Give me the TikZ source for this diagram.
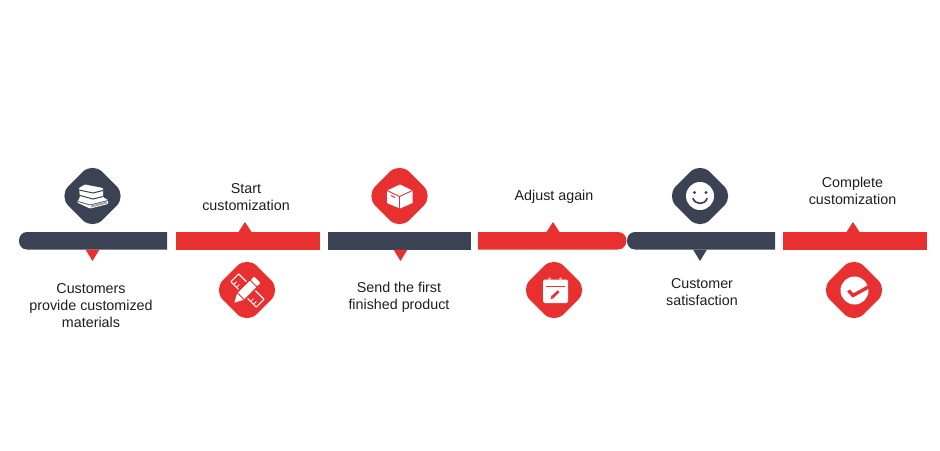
\documentclass[tikz,border=0pt]{standalone}
\usepackage{fontspec}
\setmainfont{Liberation Sans}
\definecolor{navy}{HTML}{3A4254}
\definecolor{redc}{HTML}{E93030}
\definecolor{txt}{HTML}{1E1E1E}
\tikzset{
  badge/.style={rectangle,rotate=45,minimum size=48pt,rounded corners=14pt,inner sep=0pt,fill=#1},
  lbl/.style={align=center,text=txt,font=\fontsize{14.3}{17}\selectfont,inner sep=0pt},
  icoline/.style={draw=white,line width=1.1pt,line join=round}
}
\begin{document}
\begin{tikzpicture}[x=1pt,y=-1pt]
\useasboundingbox (0,0) rectangle (940,450);
% bars
\fill[navy] (167,232) -- (27,232) .. controls (22,232) and (19,236) .. (19,240.75) .. controls (19,245.5) and (22,249.5) .. (27,249.5) -- (167,249.5) -- cycle;
\fill[redc] (175.5,232) rectangle (320,249.5);
\fill[navy] (327.5,232) rectangle (471,249.5);
\fill[redc] (478,232) -- (618,232) .. controls (623,232) and (626.5,236) .. (626.5,240.75) .. controls (626.5,245.5) and (623,249.5) .. (618,249.5) -- (478,249.5) -- cycle;
\fill[navy] (775,232) -- (635,232) .. controls (630,232) and (627,236) .. (627,240.75) .. controls (627,245.5) and (630,249.5) .. (635,249.5) -- (775,249.5) -- cycle;
\fill[redc] (783,232) rectangle (927,249.5);
% pointers
\fill[redc] (85.5,249.5) -- (99.5,249.5) -- (92.5,261) -- cycle;
\fill[redc] (238.5,232) -- (251.5,232) -- (245,222) -- cycle;
\fill[redc] (393.5,249.5) -- (407.5,249.5) -- (400.5,261) -- cycle;
\fill[redc] (546.5,232) -- (559.5,232) -- (553,222) -- cycle;
\fill[navy] (693,249.5) -- (707,249.5) -- (700,261) -- cycle;
\fill[redc] (846.5,232) -- (859.5,232) -- (853,222) -- cycle;
% badges
\node[badge=navy] (b1) at (92.5,196) {};
\node[badge=redc] (b2) at (247,290) {};
\node[badge=redc] (b3) at (399.5,196) {};
\node[badge=redc] (b4) at (554,290) {};
\node[badge=navy] (b5) at (700,196) {};
\node[badge=redc] (b6) at (854,290) {};
% labels
\node[lbl] (t1) at (91,305.7) {Customers\\provide customized\\materials};
\node[lbl] (t2) at (246,197) {Start\\customization};
\node[lbl] (t3) at (399,297.2) {Send the first\\finished product};
\node[lbl] (t4) at (554,196.7) {Adjust again};
\node[lbl] (t5) at (702,292) {Customer\\satisfaction};
\node[lbl] (t6) at (852.5,191) {Complete\\customization};
% books icon
\fill[white,rounded corners=.8pt] (85,184.5) -- (103,188) -- (103,197) -- (108,200) -- (108,204) -- (90,208.5) -- (77,202.5) -- (80,197) -- (79,188) -- cycle;
\draw[navy,line width=1pt] (79,190) -- (93,193) -- (103,190.5);
\draw[navy,line width=1pt] (80,195.5) -- (93,199) -- (103,196.5);
\draw[navy,line width=.7pt] (78,201.5) -- (90,205) -- (108,200.5);
\fill[navy,opacity=.45] (91,205.5) -- (107,201.5) -- (107,203.5) -- (91,207.5) -- cycle;
% pencil & ruler icon
\begin{scope}[shift={(247.5,290.5)},rotate=-45]
  \draw[icoline,rounded corners=.5pt] (-18,-5.5) rectangle (18,5.5);
  \foreach \k in {-14,-10,10,14} \draw[white,line width=.8pt] (\k,5.5) -- (\k,1.5);
\end{scope}
\begin{scope}[shift={(246,291)},rotate=45]
  \fill[redc] (-18,-6.2) rectangle (19,6.2);
  \fill[white] (-16.5,0) -- (-8,-4.5) -- (-8,4.5) -- cycle;
  \fill[white] (-6.8,-4.5) rectangle (10,4.5);
  \fill[white,rounded corners=1pt] (11.2,-4.5) rectangle (16,4.5);
\end{scope}
% box icon
\fill[white] (400,184.5) -- (412.5,190.5) -- (412.5,203) -- (400,208.5) -- (387,203) -- (387,190.5) -- cycle;
\draw[redc,line width=.9pt] (387,190.5) -- (399.5,196.5) -- (412.5,190.5) (399.5,196.5) -- (399.5,208.5);
\draw[redc,line width=.9pt] (391,195.5) -- (395,197.5);
% calendar icon
\fill[white,rounded corners=1.5pt] (543,279.5) rectangle (568,303);
\draw[redc,line width=.9pt] (546,286.5) -- (565,286.5);
\fill[white] (549.5,278.8) circle (1.4pt) (560.5,278.8) circle (1.4pt);
\fill[redc] (549.5,278.8) circle (.5pt) (560.5,278.8) circle (.5pt);
\draw[redc,line width=2.6pt] (553,296.5) -- (558.6,291.2);
\fill[redc] (550.6,299) -- (551.6,295.2) -- (554.5,298) -- cycle;
% smile icon
\fill[white] (700,196) circle (14pt);
\fill[navy] (694.5,192.5) circle (1.7pt) (706,192.5) circle (1.7pt);
\draw[navy,line width=1.7pt,line cap=round] (693,198.5) .. controls (695.5,205) and (705,205) .. (707,198.5);
% check icon
\fill[white] (854.5,290.5) circle (14pt);
\draw[redc,line width=3.4pt,line join=miter] (848.5,290.5) -- (853,295.5) -- (870,286);
\end{tikzpicture}
\end{document}
